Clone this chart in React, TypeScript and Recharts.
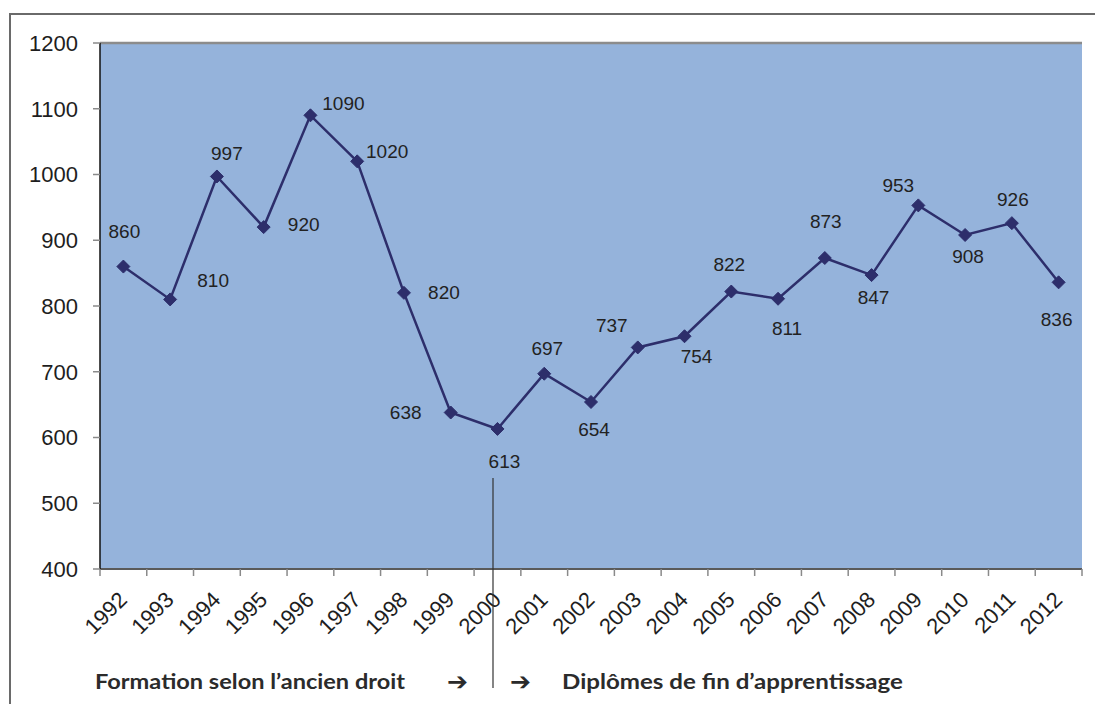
import React from 'react';
import { LineChart, Line, XAxis, YAxis, CartesianGrid, ReferenceLine, LabelList } from 'recharts';

const YEARS = ['1992','1993','1994','1995','1996','1997','1998','1999','2000','2001','2002','2003','2004','2005','2006','2007','2008','2009','2010','2011','2012'];
const VALUES = [860, 810, 997, 920, 1090, 1020, 820, 638, 613, 697, 654, 737, 754, 822, 811, 873, 847, 953, 908, 926, 836];
const Y_TICKS = [400, 500, 600, 700, 800, 900, 1000, 1100, 1200];
const LEFT_NOTE = 'Formation selon l\u2019ancien droit';
const RIGHT_NOTE = 'Dipl\u00f4mes de fin d\u2019apprentissage';

// label placement offsets (style), relative to each point
const LABEL_OFFSETS: [number, number][] = [
  [1, -35], [43, -19], [10, -23], [40, -3], [33, -12], [30, -10], [40, 0], [-45, 0],
  [7, 33], [3, -25], [3, 28], [-26, -22], [12, 20], [-2, -27], [9, 30], [1, -37],
  [2, 22], [-20, -20], [3, 22], [1, -24], [-2, 37],
];

const data = YEARS.map((year, i) => ({ year, value: VALUES[i] }));

const W = 1095;
const H = 704;
const MARGIN = { top: 43, right: 13, bottom: 0, left: 0 };
const Y_AXIS_W = 100;
const X_AXIS_H = 135;
const PLOT_W = W - MARGIN.left - MARGIN.right - Y_AXIS_W;
const BAND = PLOT_W / YEARS.length;
const LINE_COLOR = '#2d2e6b';
const FONT = '"Liberation Sans", Arial, sans-serif';

const XTick = (props: any) => {
  const { x, y, payload, index } = props;
  const half = BAND / 2;
  const tx = x + 5;
  const ty = y + 32;
  return (
    <g>
      <line x1={x - half} x2={x - half} y1={y} y2={y + 7} stroke="#8a8a8a" strokeWidth={1.5} />
      {index === YEARS.length - 1 && (
        <line x1={x + half} x2={x + half} y1={y} y2={y + 7} stroke="#8a8a8a" strokeWidth={1.5} />
      )}
      <text x={tx} y={ty} transform={`rotate(-45, ${tx}, ${ty})`} textAnchor="end" fontSize={22} fontFamily={FONT} fill="#1e1e1e">
        {payload.value}
      </text>
    </g>
  );
};

const Diamond = (props: any) => {
  const { cx, cy, index } = props;
  if (cx == null || cy == null) return <g key={`d${index}`} />;
  const r = 6.5;
  return (
    <polygon
      key={`d${index}`}
      points={`${cx},${cy - r} ${cx + r},${cy} ${cx},${cy + r} ${cx - r},${cy}`}
      fill={LINE_COLOR}
      stroke={LINE_COLOR}
      strokeWidth={1}
    />
  );
};

const ValueLabel = (props: any) => {
  const { index, value } = props;
  const vb = props.viewBox || {};
  const x = props.x ?? vb.x;
  const y = props.y ?? vb.y;
  if (x == null || y == null) return null;
  const [dx, dy] = LABEL_OFFSETS[index] || [0, -20];
  return (
    <text x={x + dx} y={y + dy} textAnchor="middle" dominantBaseline="central" fontSize={19} fontFamily={FONT} fill="#222">
      {value}
    </text>
  );
};

export default function App() {
  return (
    <div style={{ position: 'absolute', left: 0, top: 0, width: W, height: H, overflow: 'hidden', background: '#fff' }}>
      <div style={{ position: 'absolute', left: 9, top: 13, width: 1300, height: 900, border: '2px solid #6a6a6a' }} />
      <div style={{ position: 'absolute', left: 0, top: 0 }}>
        <LineChart width={W} height={H} data={data} margin={MARGIN}>
          <CartesianGrid vertical={false} fill="#95b3db" stroke="#36465c" strokeWidth={1.2} />
          <XAxis
            dataKey="year"
            interval={0}
            tickLine={false}
            tickSize={0}
            tickMargin={0}
            height={X_AXIS_H}
            padding={{ left: BAND / 2, right: BAND / 2 }}
            axisLine={{ stroke: '#5a5a5a', strokeWidth: 2 }}
            tick={<XTick />}
          />
          <YAxis
            yAxisId="left"
            width={Y_AXIS_W}
            domain={[400, 1200]}
            ticks={Y_TICKS}
            interval={0}
            tickSize={7}
            tickMargin={15}
            tickLine={{ stroke: '#8a8a8a', strokeWidth: 1.5 }}
            axisLine={{ stroke: '#111', strokeWidth: 1.5 }}
            tick={{ fontSize: 22, fontFamily: FONT, fill: '#1e1e1e' }}
          />
          <YAxis
            yAxisId="right"
            orientation="right"
            width={0}
            domain={[400, 1200]}
            tick={false}
            tickLine={false}
            axisLine={{ stroke: '#8c8c8c', strokeWidth: 2.5 }}
          />
          <ReferenceLine yAxisId="left" y={1200} stroke="#8c8c8c" strokeWidth={2.5} />
          <Line
            yAxisId="left"
            type="linear"
            dataKey="value"
            stroke={LINE_COLOR}
            strokeWidth={2.5}
            dot={<Diamond />}
            activeDot={false}
            isAnimationActive={false}
          >
            <LabelList dataKey="value" content={<ValueLabel />} />
          </Line>
        </LineChart>
      </div>
      <svg width={W} height={H} style={{ position: 'absolute', left: 0, top: 0, pointerEvents: 'none' }}>
        <line x1={493} x2={493} y1={478} y2={688} stroke="#333" strokeWidth={1.2} />
        <text x={95} y={689} fontFamily="Lato, 'Open Sans', sans-serif" fontWeight={700} fontSize={20} fill="#2b2b2b" textLength={310} lengthAdjust="spacingAndGlyphs">
          {LEFT_NOTE}
        </text>
        <text x={447} y={690} fontFamily="'DejaVu Sans', sans-serif" fontSize={25} fill="#2b2b2b">{'\u2794'}</text>
        <text x={510} y={690} fontFamily="'DejaVu Sans', sans-serif" fontSize={25} fill="#2b2b2b">{'\u2794'}</text>
        <text x={562} y={689} fontFamily="Lato, 'Open Sans', sans-serif" fontWeight={700} fontSize={20} fill="#2b2b2b" textLength={341} lengthAdjust="spacingAndGlyphs">
          {RIGHT_NOTE}
        </text>
      </svg>
    </div>
  );
}
